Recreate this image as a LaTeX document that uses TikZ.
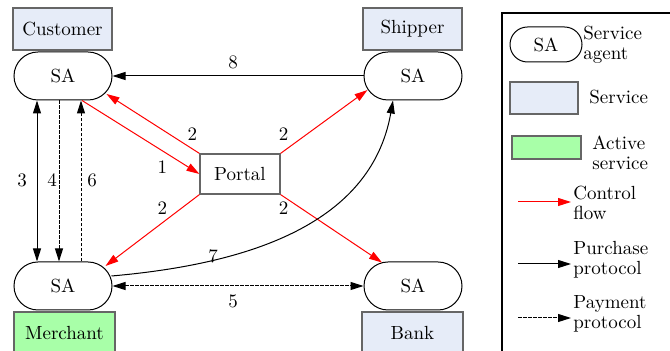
\documentclass[tikz,border=0pt]{standalone}
\usepackage{tikz}
\usepackage{xcolor}
\usetikzlibrary{shapes.misc}
\usetikzlibrary{calc}
\usetikzlibrary{positioning, arrows.meta}
\definecolor{svcblue}{HTML}{E6ECF8}
\definecolor{actgreen}{HTML}{A8FFA8}

\begin{document}
\begin{tikzpicture}[x=0.5pt, y=-0.5pt,
    every node/.style={font=\rmfamily\fontsize{9.5}{9.75}\selectfont},
    sa/.style={rounded rectangle, draw, line width=0.5pt, minimum width=49pt, minimum height=24pt, inner sep=0pt},
    svc/.style={rectangle, draw=black!60, line width=0.6pt, fill=svcblue, minimum width=49.5pt, minimum height=21pt, inner sep=0pt},
    actsvc/.style={svc, fill=actgreen},
    ctrl/.style={red, line width=0.5pt, -{Triangle[length=6.5pt, width=4pt]}},
    buy/.style={black, line width=0.5pt, -{Triangle[length=6.5pt, width=4pt]}},
    pay/.style={buy, dash pattern=on 1.8pt off 0.7pt},
    keytext/.style={anchor=west, align=left, inner sep=0pt}]
                    \useasboundingbox (0,0) rectangle (670,351);
                    \clip (0,0) rectangle (670,351);
                    % services and their agents
                    \node [svc] (cust) at (62.5,29) {Customer};
                    \node [sa] (custsa) at (63,76) {SA};
                    \node [svc] (ship) at (412.5,29) {Shipper};
                    \node [sa] (shipsa) at (413,76) {SA};
                    \node [actsvc, minimum width=50.5pt] (merch) at (64.5,333) {Merchant};
                    \node [sa] (mersa) at (63,286) {SA};
                    \node [svc, minimum width=50.5pt] (bank) at (412.5,333) {Bank};
                    \node [sa] (banksa) at (413,286) {SA};
                    \node [rectangle, draw=black!60, line width=0.6pt, fill=white, minimum width=40pt, minimum height=20pt] (portal) at (240,174) {Portal};
                    % control flow through the portal
                    \draw [ctrl] ($(custsa.south)+(19,0)$) -- (portal.west);
                    \draw [ctrl] (portal.north west) -- ($(custsa.east)+(-6,18)$);
                    \draw [ctrl] (portal.north east) -- ($(shipsa.west)+(4,14)$);
                    \draw [ctrl] (portal.south west) -- ($(mersa.east)+(-7,-20)$);
                    \draw [ctrl] (portal.south east) -- ($(banksa.north)+(-31,1)$);
                    % protocols
                    \draw [buy, {Triangle[length=6.5pt, width=4pt]}-{Triangle[length=6.5pt, width=4pt]}] ($(custsa.south)+(-26,0)$) -- ($(mersa.north)+(-26,0)$);
                    \draw [pay] ($(custsa.south)+(-4,0)$) -- ($(mersa.north)+(-4,0)$);
                    \draw [pay] ($(mersa.north)+(18,0)$) -- ($(custsa.south)+(18,0)$);
                    \draw [pay, {Triangle[length=6.5pt, width=4pt]}-{Triangle[length=6.5pt, width=4pt]}] (mersa.east) -- (banksa.west);
                    \draw [buy] ($(mersa.east)+(-1,-10)$) to[out=5, in=-100] ($(shipsa.south)+(-20,0)$);
                    \draw [buy] (shipsa.west) -- (custsa.east);
                    % step numbers
                    \node (n1) at ($(portal.west)+(-37,-7)$) {1};
                    \node (n2a) at ($(portal.north west)+(-7,-19)$) {2};
                    \node (n2b) at ($(portal.north east)+(3,-19)$) {2};
                    \node (n2c) at ($(portal.south west)+(-37,14)$) {2};
                    \node (n2d) at ($(portal.south east)+(3,14)$) {2};
                    \node (n3) at (22,180) {3};
                    \node (n4) at (52,180) {4};
                    \node (n6) at (92,180) {6};
                    \node (n7) at (213,256) {7};
                    \node (n5) at (233,301) {5};
                    \node (n8) at (233,62) {8};
                    % key
                    \draw [line width=0.75pt] (690,13) -| (502,360);
                    \node [sa, minimum width=36pt, minimum height=17.5pt] (keysa) at (546,44.5) {SA};
                    \node [keytext] (keysatext) at (583,45) {Service\\agent};
                    \node [svc, minimum width=34pt, minimum height=16pt] (keysvc) at (544,98) {};
                    \node [keytext] (keysvctext) at (589,97) {Service};
                    \node [actsvc, minimum width=34.5pt, minimum height=11.5pt] (keyact) at (546.5,147.5) {};
                    \node [keytext] (keyacttext) at (592,153) {Active\\service};
                    \node [keytext] (keyctrl) at (573,203) {Control\\flow};
                    \node [keytext] (keybuy) at (573,260) {Purchase\\protocol};
                    \node [keytext] (keypay) at (573,314) {Payment\\protocol};
                    \coordinate (c1) at (518,202);
                    \coordinate (c2) at (518,264);
                    \coordinate (c3) at (518,318);
                    \draw [ctrl] (c1) -- ($(keyctrl.west)+(-2,-1)$);
                    \draw [buy] (c2) -- ($(keybuy.west)+(-2,4)$);
                    \draw [pay] (c3) -- ($(keypay.west)+(-2,4)$);
                \end{tikzpicture}
\end{document}
